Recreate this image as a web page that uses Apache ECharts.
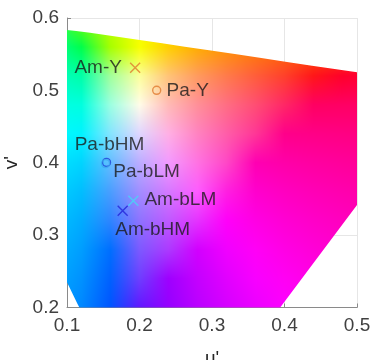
<!DOCTYPE html>
<html>
<head>
<meta charset="utf-8">
<script src="https://cdn.jsdelivr.net/npm/echarts@6/dist/echarts.min.js"></script>
<style>html,body{margin:0;padding:0;background:#fff;}#c{width:371px;height:360px;}</style>
</head>
<body>
<div id="c"></div>
<script>
// CIE 1931 spectral locus (x, y), 380-700 nm, used for the gamut outline
const locusX = [0.1741,0.1738,0.1733,0.1726,0.1714,0.1689,0.1644,0.1566,0.1440,0.1241,0.1096,0.0913,0.0687,0.0454,0.0235,0.0082,0.0039,0.0139,0.0389,0.0743,0.1142,0.1547,0.1929,0.2296,0.2658,0.3016,0.3373,0.3731,0.4087,0.4441,0.4788,0.5125,0.5448,0.5752,0.6029,0.6270,0.6482,0.6658,0.6915,0.7079,0.7190,0.7260,0.7300,0.7334,0.7347];
const locusY = [0.0050,0.0049,0.0048,0.0048,0.0051,0.0069,0.0109,0.0177,0.0297,0.0578,0.0868,0.1327,0.2007,0.2950,0.4127,0.5384,0.6548,0.7502,0.8120,0.8338,0.8262,0.8059,0.7816,0.7543,0.7243,0.6923,0.6589,0.6245,0.5896,0.5547,0.5202,0.4866,0.4544,0.4242,0.3965,0.3725,0.3514,0.3340,0.3083,0.2920,0.2809,0.2740,0.2700,0.2666,0.2653];

// Measured points
const pointNames = ['Am-Y', 'Pa-Y', 'Pa-bHM', 'Pa-bLM', 'Am-bLM', 'Am-bHM'];
const pointU = [0.194, 0.2237, 0.1545, 0.1532, 0.1915, 0.1768];
const pointV = [0.5313, 0.5001, 0.4005, 0.3988, 0.3476, 0.3338];
const pointSymbol = ['x', 'o', 'o', 'o', 'x', 'x'];
const pointColor = ['#e07a2e', '#e07a2e', '#1f3fd6', '#3aa8f0', '#45d8f5', '#2323d8'];
const labelOffset = [[-37, 0], [31, 0], [3, -18], [41, 8], [47, -1], [30, 19]];

// Axis ticks
const xTicks = [0.1, 0.2, 0.3, 0.4, 0.5];
const yTicks = [0.2, 0.3, 0.4, 0.5, 0.6];

function xyToUV(x, y) { const d = -2 * x + 12 * y + 3; return [4 * x / d, 9 * y / d]; }
function uvToRGB(u, v) {
  const d = 6 * u - 16 * v + 12;
  const x = 9 * u / d, y = 4 * v / d;
  const X = x / y, Y = 1, Z = (1 - x - y) / y;
  let r = 3.2406 * X - 1.5372 * Y - 0.4986 * Z;
  let g = -0.9689 * X + 1.8758 * Y + 0.0415 * Z;
  let b = 0.0557 * X - 0.2040 * Y + 1.0570 * Z;
  const mn = Math.min(r, g, b, 0);
  r -= mn; g -= mn; b -= mn;
  const m = Math.max(r, g, b) || 1;
  const gam = c => { c = c / m; return c <= 0.0031308 ? 12.92 * c : 1.055 * Math.pow(c, 1 / 2.4) - 0.055; };
  return [gam(r) * 255, gam(g) * 255, gam(b) * 255];
}

const boundary = locusX.map((x, i) => xyToUV(x, locusY[i]));

// coarse colour mesh (smooth shading like an interpolated patch)
const meshStep = 0.04, meshU0 = 0.0, meshV0 = 0.0, meshN = 18;
const mesh = [];
for (let j = 0; j < meshN; j++) {
  const row = [];
  for (let i = 0; i < meshN; i++) row.push(uvToRGB(Math.max(meshU0 + i * meshStep, 0.001), Math.max(meshV0 + j * meshStep, 0.001)));
  mesh.push(row);
}
function meshColor(u, v) {
  const fu = (u - meshU0) / meshStep, fv = (v - meshV0) / meshStep;
  const i = Math.min(Math.max(Math.floor(fu), 0), meshN - 2), j = Math.min(Math.max(Math.floor(fv), 0), meshN - 2);
  const a = fu - i, b = fv - j;
  const c00 = mesh[j][i], c10 = mesh[j][i + 1], c01 = mesh[j + 1][i], c11 = mesh[j + 1][i + 1];
  return [0, 1, 2].map(k => (1 - a) * (1 - b) * c00[k] + a * (1 - b) * c10[k] + (1 - a) * b * c01[k] + a * b * c11[k]);
}

let patternCanvas = null;
function buildPattern(api) {
  const W = api.getWidth(), H = api.getHeight();
  const p0 = api.coord([xTicks[0], yTicks[0]]);
  const p1 = api.coord([xTicks[xTicks.length - 1], yTicks[yTicks.length - 1]]);
  const cv = document.createElement('canvas');
  cv.width = W; cv.height = H;
  const ctx = cv.getContext('2d');
  const img = ctx.createImageData(W, H);
  const x0 = Math.max(0, Math.floor(Math.min(p0[0], p1[0])) - 2), x1 = Math.min(W, Math.ceil(Math.max(p0[0], p1[0])) + 2);
  const y0 = Math.max(0, Math.floor(Math.min(p0[1], p1[1])) - 2), y1 = Math.min(H, Math.ceil(Math.max(p0[1], p1[1])) + 2);
  const su = (xTicks[xTicks.length - 1] - xTicks[0]) / (p1[0] - p0[0]);
  const sv = (yTicks[yTicks.length - 1] - yTicks[0]) / (p1[1] - p0[1]);
  for (let py = y0; py < y1; py++) {
    for (let px = x0; px < x1; px++) {
      const u = xTicks[0] + (px + 0.5 - p0[0]) * su;
      const v = yTicks[0] + (py + 0.5 - p0[1]) * sv;
      const col = meshColor(u, v);
      const k = (py * W + px) * 4;
      img.data[k] = col[0]; img.data[k + 1] = col[1]; img.data[k + 2] = col[2]; img.data[k + 3] = 255;
    }
  }
  ctx.putImageData(img, 0, 0);
  return cv;
}

const chart = echarts.init(document.getElementById('c'), null, { renderer: 'canvas' });
const font = 'Liberation Sans, Arial, sans-serif';

const axisCommon = {
  type: 'value',
  interval: 0.1,
  nameLocation: 'middle',
  nameTextStyle: { fontSize: 19, color: '#262626', fontFamily: font },
  axisLine: { show: true, lineStyle: { color: '#8a8a8a', width: 1 } },
  axisTick: { show: true, inside: true, length: 4, lineStyle: { color: '#8a8a8a' } },
  axisLabel: { fontSize: 19, color: '#404040', fontFamily: font, formatter: v => v.toFixed(1) },
  splitLine: { show: true, lineStyle: { color: '#e6e6e6', width: 1 } }
};

chart.setOption({
  animation: false,
  backgroundColor: '#fff',
  grid: { left: 67, right: 14, top: 18, bottom: 52.5, containLabel: false, outerBoundsMode: 'none' },
  xAxis: Object.assign({}, axisCommon, {
    min: xTicks[0], max: xTicks[xTicks.length - 1], name: "u'", nameGap: 42,
    axisLabel: Object.assign({}, axisCommon.axisLabel, { margin: 9 })
  }),
  yAxis: Object.assign({}, axisCommon, {
    min: yTicks[0], max: yTicks[yTicks.length - 1], name: "v'", nameGap: 45,
    axisLabel: Object.assign({}, axisCommon.axisLabel, { margin: 8 })
  }),
  series: [
    {
      type: 'custom',
      silent: true,
      clip: true,
      z: 1,
      data: [[boundary[0][0], boundary[0][1]]],
      renderItem: function (params, api) {
        if (!patternCanvas) patternCanvas = buildPattern(api);
        const pts = boundary.map(p => api.coord(p));
        return {
          type: 'polygon',
          shape: { points: pts },
          style: { fill: { image: patternCanvas, repeat: 'no-repeat' }, stroke: null }
        };
      }
    },
    {
      type: 'scatter',
      z: 5,
      data: pointNames.map((n, i) => ({
        name: n,
        value: [pointU[i], pointV[i]],
        symbol: pointSymbol[i] === 'x' ? 'path://M0,0L10,10M10,0L0,10' : 'circle',
        symbolSize: pointSymbol[i] === 'x' ? 10 : 8,
        itemStyle: { color: 'rgba(0,0,0,0)', borderColor: pointColor[i], borderWidth: 1.4 },
        label: { offset: labelOffset[i] }
      })),
      label: {
        show: true,
        position: 'inside',
        formatter: p => p.name,
        fontSize: 19,
        fontFamily: font,
        color: '#1a1a1a'
      }
    }
  ]
});
</script>
</body>
</html>
